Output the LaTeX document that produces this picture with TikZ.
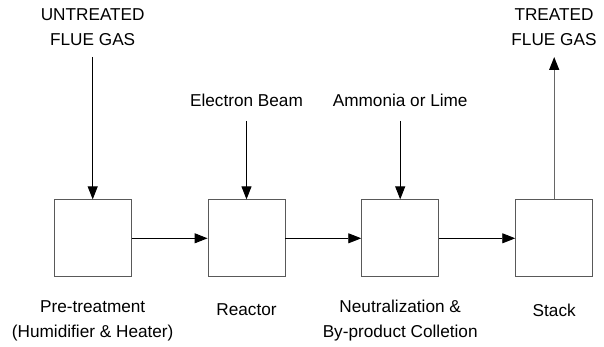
\documentclass[tikz,border=0pt]{standalone}
\usepackage{fontspec}
\setmainfont{Liberation Sans}
\usetikzlibrary{arrows.meta}
\begin{document}
\begin{tikzpicture}[x=1pt,y=-1pt,
  box/.style={draw=black!65,line width=0.9pt,minimum width=77pt,minimum height=77pt,inner sep=0pt},
  lbl/.style={font=\fontsize{17.2}{25}\selectfont,align=center,inner sep=0pt},
  flow/.style={draw=black,line width=0.9pt,-{Triangle[length=13pt,width=10pt]}},
  exhaust/.style={draw=black!60,line width=1.2pt,-{Triangle[length=13pt,width=10pt,fill=black,color=black]}}]
\useasboundingbox (0,0) rectangle (604,347);
\node[box] (b1) at (92.7,238.3) {};
\node[box] (b2) at (246.5,238.3) {};
\node[box] (b3) at (400.2,238.3) {};
\node[box] (b4) at (554.2,238.3) {};
\node[lbl] (t1) at (92.7,27.5) {UNTREATED\\FLUE GAS};
\node[lbl] (t2) at (246.5,100) {Electron Beam};
\node[lbl] (t3) at (400.2,100) {Ammonia or Lime};
\node[lbl] (t4) at (554,27.5) {TREATED\\FLUE GAS};
\node[lbl] (l1) at (92.7,321) {Pre-treatment\\(Humidifier \& Heater)};
\node[lbl] (l2) at (246.5,310) {Reactor};
\node[lbl] (l3) at (400.2,321) {Neutralization \&\\By-product Colletion};
\node[lbl] (l4) at (554.2,310) {Stack};
\coordinate (a1) at (92.7,57);
\coordinate (a2) at (246.5,121);
\coordinate (a3) at (400.2,121);
\coordinate (a4) at (554.2,57);
\draw[flow] (a1) -- (b1.north);
\draw[flow] (a2) -- (b2.north);
\draw[flow] (a3) -- (b3.north);
\draw[exhaust] (b4.north) -- (a4);
\draw[flow] (b1.east) -- (b2.west);
\draw[flow] (b2.east) -- (b3.west);
\draw[flow] (b3.east) -- (b4.west);
\end{tikzpicture}
\end{document}
